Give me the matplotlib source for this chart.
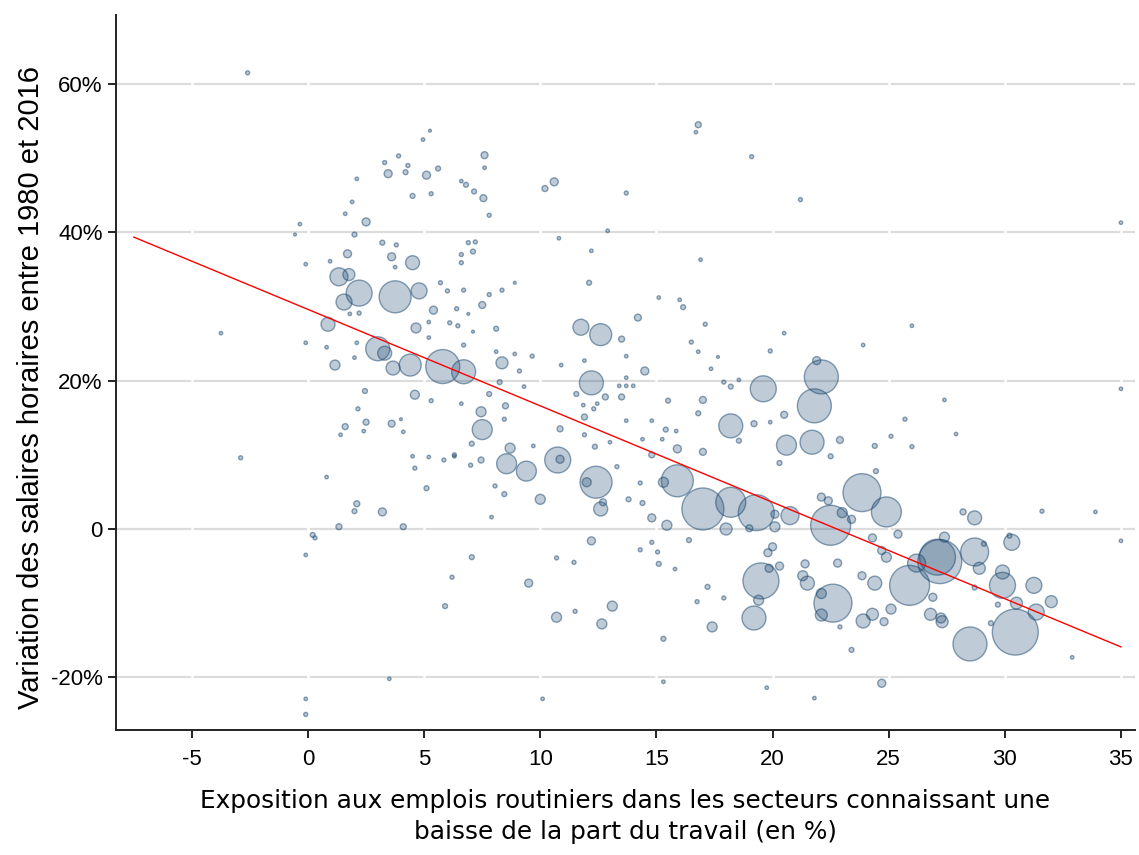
import numpy as np
import matplotlib
matplotlib.use("Agg")
import matplotlib.pyplot as plt

# Exposition (en %), variation des salaires (en %), poids de la zone
expo = [
    1.33, 1.76, 2.2, 1.55, 3.75, 4.78, 4.5, 3.6, 1.7, 2.5, 3.45, 5.1, 0.86, 4.65, 5.4,
    3.0, 3.3, 3.66, 4.4, 5.8, 1.16, 6.7, 4.6, 3.6, 3.2, 1.33, 4.1, -2.9, 0.2, 0.3,
    1.6, 2.5, 2.45, 2.15, 5.3, 5.1, 2.1, 2.0, 6.2, 5.9, -0.1, -0.1, 3.5, -0.1, 0.8,
    4.6, 4.5, 5.2, 5.85, 6.3, 4.1, 1.4, 2.4, 4.0, -2.6, -3.75, -0.1, -0.35, -0.56, 1.6,
    1.9, 2.1, 3.3, 3.9, 4.3, 4.2, 4.95, 5.25, 5.6, 4.5, 5.3, 2.0, 3.2, 3.8, 3.75,
    0.95, -0.1, 0.8, 2.1, 2.0, 5.7, 6.0, 5.2, 5.2, 1.8, 2.2, 6.1,
    11.75, 12.6, 14.2, 13.5, 8.35, 14.5, 7.5, 7.6, 10.6, 10.2, 7.55, 6.8, 7.15, 6.6, 7.6,
    7.8, 16.8, 16.7, 19.1, 13.7, 12.9, 10.8, 12.2, 6.9, 7.2, 7.1, 6.6, 6.6, 16.9, 6.7,
    8.35, 7.8, 8.9, 12.1, 6.4, 6.9, 6.45, 8.1, 7.1, 6.7, 15.1, 16.0, 16.15, 17.1, 20.5,
    16.5, 16.8, 19.9, 17.65, 17.35, 8.1, 8.9, 9.65, 10.9, 11.9, 13.7, 9.1,
    22.1, 21.8, 21.7, 20.6, 23.85, 21.9, 20.5, 22.9, 22.5, 24.4, 24.45, 25.7, 25.1, 26.0, 27.4,
    27.9, 23.9, 26.0, 35.0, 35.0, 21.2,
    12.2, 19.6, 18.2, 7.5, 7.45, 8.55, 9.4, 8.7, 10.75, 10.85, 12.4, 12.0, 12.6, 12.7, 10.0,
    15.9, 17.0, 18.2, 19.3, 15.3, 18.0, 15.45, 14.8, 15.9, 17.0, 17.0, 19.5, 19.2, 19.4, 17.4,
    20.0, 19.8, 19.85, 20.3, 13.1, 10.7, 12.65, 9.5, 12.2, 15.3, 7.05, 10.7, 11.45, 11.5, 14.3,
    14.8, 15.05, 15.1, 15.8, 16.4, 17.2, 16.75, 17.9, 15.3, 10.1, 19.75, 7.9, 8.05, 8.45, 13.8,
    14.4, 14.3, 13.3, 12.35, 11.9, 13.0, 13.7, 11.9, 12.8, 13.5, 12.3, 11.85, 12.45, 11.55, 9.3,
    8.25, 7.8, 8.5, 8.45, 6.6, 6.3, 7.0, 7.45, 7.05, 9.7, 10.85, 15.5, 16.8, 17.9, 18.2,
    18.55, 19.2, 19.9, 18.55, 15.4, 15.85, 15.25, 14.8, 14.4, 14.8, 20.3, 13.7, 13.4, 13.7, 14.0,
    20.1, 19.0, 20.1,
    22.5, 24.9, 20.75, 22.6, 25.9, 27.2, 27.1, 28.7, 29.9, 30.45, 28.5, 31.25, 32.0, 31.35, 30.3,
    28.7, 28.9, 29.9, 30.5, 26.8, 27.3, 27.25, 27.4, 26.2, 26.9, 24.4, 23.9, 24.3, 24.8, 25.1,
    21.5, 21.3, 22.1, 22.1, 21.4, 22.8, 23.85, 24.9, 24.3, 25.4, 24.7, 23.0, 23.4, 24.7, 23.4,
    22.1, 22.4, 28.2, 31.6, 33.9, 32.9, 21.8, 35.0, 29.1, 28.7, 29.4, 22.9, 29.7, 30.2,
]
variation = [
    34.0, 34.3, 31.8, 30.6, 31.3, 32.1, 35.9, 36.7, 37.1, 41.4, 47.9, 47.7, 27.6, 27.1, 29.5,
    24.3, 23.7, 21.7, 22.1, 21.9, 22.1, 21.2, 18.1, 14.2, 2.3, 0.3, 0.3, 9.6, -0.8, -1.2,
    13.8, 14.4, 18.6, 16.2, 17.3, 5.5, 3.4, 2.4, -6.5, -10.4, -25.0, -22.9, -20.2, -3.5, 7.0,
    8.2, 9.8, 9.7, 9.3, 10.0, 13.1, 12.7, 13.2, 14.8, 61.5, 26.4, 35.7, 41.1, 39.7, 42.5,
    44.1, 47.2, 49.4, 50.3, 49.0, 48.1, 52.5, 53.7, 48.6, 44.9, 45.2, 39.7, 38.6, 38.3, 35.3,
    36.1, 25.1, 24.5, 25.1, 23.1, 33.2, 32.1, 27.9, 25.8, 29.0, 29.1, 27.8,
    27.2, 26.2, 28.5, 25.6, 22.4, 21.3, 30.2, 50.4, 46.8, 45.9, 44.6, 46.4, 45.5, 46.9, 48.7,
    42.3, 54.5, 53.5, 50.2, 45.3, 40.2, 39.2, 37.5, 38.6, 38.7, 37.4, 37.0, 35.9, 36.3, 32.2,
    32.2, 31.6, 33.2, 33.2, 29.7, 29.0, 27.4, 27.0, 26.6, 24.8, 31.2, 30.9, 29.9, 27.6, 26.4,
    25.2, 23.9, 24.0, 23.2, 21.6, 23.9, 23.6, 23.3, 22.1, 22.7, 23.3, 21.3,
    20.5, 16.6, 11.7, 11.3, 4.9, 22.7, 15.4, 12.0, 9.8, 11.2, 7.8, 14.8, 12.5, 11.1, 17.4,
    12.8, 24.8, 27.4, 41.3, 18.9, 44.4,
    19.7, 18.9, 13.9, 13.4, 15.8, 8.8, 7.8, 10.9, 9.3, 9.4, 6.3, 6.3, 2.7, 3.6, 4.0,
    6.5, 2.7, 3.6, 2.2, 6.3, 0.0, 0.5, 1.5, 10.8, 10.4, 17.4, -7.0, -12.0, -9.6, -13.2,
    -2.4, -3.2, -5.3, -5.0, -10.4, -11.9, -12.8, -7.3, -1.6, -14.8, -3.8, -3.9, -4.5, -11.1, -2.8,
    -1.8, -3.1, -4.7, -5.4, -1.5, -7.8, -9.8, -9.3, -20.6, -22.9, -21.4, 1.6, 5.8, 4.7, 4.0,
    3.5, 6.2, 8.4, 11.1, 12.7, 11.7, 14.6, 15.1, 17.8, 17.8, 16.2, 16.7, 16.9, 18.2, 19.2,
    19.8, 18.2, 16.6, 14.8, 16.9, 9.8, 8.6, 9.3, 11.5, 11.2, 13.5, 17.3, 15.6, 19.8, 19.2,
    20.1, 14.2, 14.4, 11.9, 13.4, 13.2, 12.1, 14.6, 12.1, 10.0, 8.9, 20.4, 19.3, 19.3, 19.3,
    0.3, 0.1, 2.0,
    0.5, 2.3, 1.8, -10.0, -7.6, -4.4, -3.8, -3.1, -7.6, -13.9, -15.5, -7.6, -9.8, -11.2, -1.8,
    1.5, -5.3, -5.8, -10.0, -11.5, -12.5, -12.0, -1.1, -4.6, -9.2, -7.3, -12.4, -11.5, -12.5, -10.8,
    -7.3, -6.3, -8.7, -11.6, -4.7, -4.6, -6.3, -3.8, -1.2, -0.7, -2.9, 2.2, 1.3, -20.8, -16.3,
    4.3, 3.8, 2.3, 2.4, 2.3, -17.3, -22.8, -1.6, -2.0, -7.9, -12.7, -13.2, -10.2, -0.9,
]
poids = [
    81, 36, 169, 64, 256, 64, 49, 16, 16, 16, 16, 16, 49, 25, 16,
    144, 49, 49, 121, 289, 25, 144, 20, 12, 16, 9, 9, 4, 6, 4,
    9, 9, 6, 4, 4, 6, 9, 6, 4, 6, 4, 3, 3, 3, 3,
    4, 3, 3, 4, 4, 3, 3, 3, 2, 4, 3, 3, 3, 2, 3,
    3, 3, 4, 4, 4, 6, 3, 2, 6, 6, 4, 6, 6, 4, 3,
    3, 3, 3, 3, 3, 4, 4, 3, 3, 3, 4, 4,
    64, 121, 12, 9, 36, 16, 12, 12, 16, 9, 12, 6, 6, 3, 3,
    4, 9, 3, 4, 4, 3, 3, 3, 4, 4, 6, 4, 4, 3, 4,
    4, 4, 2, 6, 4, 2, 4, 6, 2, 4, 3, 3, 6, 4, 3,
    4, 3, 4, 2, 3, 3, 3, 4, 3, 3, 3, 4,
    289, 289, 144, 100, 361, 16, 12, 12, 6, 6, 6, 4, 4, 4, 3,
    3, 3, 3, 3, 3, 4,
    144, 169, 144, 100, 25, 100, 100, 25, 169, 16, 256, 20, 49, 12, 25,
    256, 441, 225, 324, 25, 36, 25, 16, 16, 12, 12, 324, 144, 25, 25,
    16, 16, 16, 16, 25, 25, 25, 16, 16, 6, 6, 4, 4, 4, 4,
    4, 4, 6, 3, 6, 6, 4, 4, 3, 3, 3, 3, 4, 6, 6,
    6, 4, 4, 6, 4, 3, 3, 9, 9, 9, 4, 3, 3, 6, 3,
    6, 6, 9, 4, 3, 3, 4, 9, 6, 3, 9, 6, 6, 4, 6,
    3, 9, 3, 6, 6, 3, 3, 3, 3, 9, 6, 3, 3, 3, 3,
    25, 12, 16,
    400, 225, 81, 361, 400, 484, 324, 196, 169, 529, 289, 64, 36, 64, 64,
    49, 36, 49, 36, 36, 36, 25, 25, 81, 16, 49, 49, 36, 16, 25,
    49, 25, 25, 36, 16, 16, 16, 25, 16, 16, 16, 25, 16, 16, 6,
    16, 16, 9, 4, 3, 3, 3, 3, 6, 6, 6, 4, 6, 6,
]

# Droite de régression
constante = 29.6
pente = -1.30
x_droite = [-7.5, 35]

xticks = [-5, 0, 5, 10, 15, 20, 25, 30, 35]
yticks = [-20, 0, 20, 40, 60]
ytick_labels = ['-20%', '0', '20%', '40%', '60%']

bleu = '#1a476f'

fig = plt.figure(figsize=(11.39, 8.55), dpi=100)
ax = fig.add_axes([0.1018, 0.1462, 0.8946, 0.8363])

# quadrillage horizontal avec petites coupures aux graduations
for yv in yticks:
    ax.axhline(yv, color='#dcdcdc', lw=1.6, zorder=0.5)
for xv in xticks:
    ax.axvline(xv, color='white', lw=1.8, zorder=0.6)

face = matplotlib.colors.to_rgba(bleu, 0.28)
bord = matplotlib.colors.to_rgba(bleu, 0.5)
tailles = np.array(poids) * 2.07
ax.scatter(expo, variation, s=tailles, facecolors=face, edgecolors=bord,
           linewidths=1.0, zorder=2)

xd = np.array(x_droite)
ax.plot(xd, constante + pente * xd, color='red', lw=1.0, zorder=3)

ax.set_xlim(-8.27, 35.6)
ax.set_ylim(-27.1, 69.3)
ax.set_xticks(xticks)
ax.set_xticklabels([str(v) for v in xticks], family='Liberation Sans', fontsize=16)
ax.set_yticks(yticks)
ax.set_yticklabels(ytick_labels, family='Liberation Sans', fontsize=16)
ax.tick_params(axis='both', direction='out', length=5.5, width=1.4, color='#222222')
ax.tick_params(axis='x', pad=8)
ax.tick_params(axis='y', pad=4)

for side in ['top', 'right']:
    ax.spines[side].set_visible(False)
for side in ['left', 'bottom']:
    ax.spines[side].set_linewidth(1.4)
    ax.spines[side].set_color('#222222')

ax.set_xlabel("Exposition aux emplois routiniers dans les secteurs connaissant une\n"
              "baisse de la part du travail (en %)",
              family='DejaVu Sans', fontsize=17.8, labelpad=14, linespacing=1.35)
ax.set_ylabel("Variation des salaires horaires entre 1980 et 2016",
              family='Liberation Sans', fontsize=21)
ax.yaxis.set_label_coords(-0.070, 0.479)

plt.savefig('out.png', dpi=100)
plt.close()
